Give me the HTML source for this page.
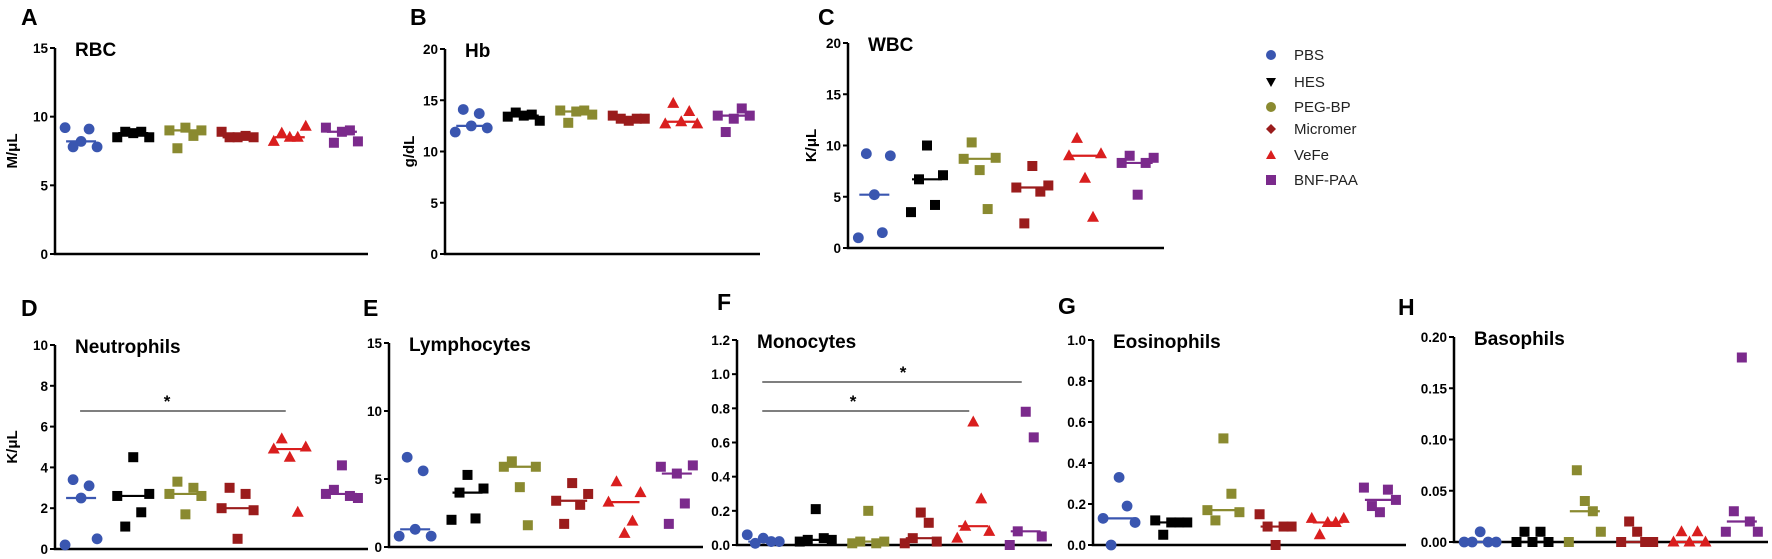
<!DOCTYPE html>
<html><head><meta charset="utf-8">
<style>
html,body{margin:0;padding:0;background:#fff;}
svg{display:block;font-family:"Liberation Sans",Arial,sans-serif;}
</style></head>
<body>
<svg id="fig" width="1772" height="559" viewBox="0 0 1772 559"></svg>
<script>
const groups = ["PBS","HES","PEG-BP","Micromer","VeFe","BNF-PAA"];
const colors = ["#3a56b0","#000000","#8a8a30","#9a1c1c","#d91e1e","#7b2a8c"];
const shapes = ["circle","square","square","square","triangle","square"];

const rbcValues = [[9.2,7.8,8.2,9.1,7.8],[8.5,8.9,8.8,8.9,8.5],[9.0,7.7,9.2,8.6,9.0],[8.9,8.5,8.5,8.6,8.5],[8.2,8.8,8.5,8.5,9.3],[9.2,8.1,8.9,9.0,8.2]];
const hbValues = [[11.9,14.1,12.5,13.7,12.3],[13.4,13.8,13.5,13.6,13.0],[14.0,12.8,13.9,14.0,13.6],[13.5,13.2,13.0,13.2,13.2],[12.7,14.7,12.9,13.9,12.7],[13.5,11.9,13.2,14.2,13.5]];
const wbcValues = [[1.0,9.2,5.2,1.5,9.0],[3.5,6.7,10.0,4.2,7.1],[8.7,10.3,7.6,3.8,8.8],[5.9,2.4,8.0,5.5,6.1],[9.0,10.7,6.8,3.0,9.2],[8.3,9.0,5.2,8.3,8.8]];
const neuValues = [[0.2,3.4,2.5,3.1,0.5],[2.6,1.1,4.5,1.8,2.7],[2.7,3.3,1.7,3.0,2.6],[2.0,3.0,0.5,2.7,1.9],[4.9,5.4,4.5,1.8,5.0],[2.7,2.9,4.1,2.6,2.5]];
const lymValues = [[0.8,6.6,1.3,5.6,0.8],[2.0,4.0,5.3,2.1,4.3],[5.9,6.3,4.4,1.6,5.9],[3.4,1.7,4.7,3.1,3.9],[3.3,4.8,1.0,1.9,4.0],[5.9,1.7,5.4,3.2,6.0]];
const monValues = [[0.06,0.01,0.04,0.02,0.02],[0.02,0.03,0.21,0.04,0.03],[0.01,0.02,0.20,0.01,0.02],[0.01,0.04,0.19,0.13,0.02],[0.04,0.11,0.72,0.27,0.08],[0.0,0.08,0.78,0.63,0.05]];
const eosValues = [[0.13,0.0,0.33,0.19,0.11],[0.12,0.05,0.11,0.11,0.11],[0.17,0.12,0.52,0.25,0.16],[0.15,0.09,0.0,0.09,0.09],[0.13,0.05,0.11,0.11,0.13],[0.28,0.19,0.16,0.27,0.22]];
const basValues = [[0,0,0.01,0,0],[0,0.01,0,0.01,0],[0,0.07,0.04,0.03,0.01],[0,0.02,0.01,0,0],[0,0.01,0,0.01,0],[0.01,0.03,0.18,0.02,0.01]];

const rbcTicks = [0,5,10,15];
const hbTicks = [0,5,10,15,20];
const wbcTicks = [0,5,10,15,20];
const neuTicks = [0,2,4,6,8,10];
const lymTicks = [0,5,10,15];
const monTicks = [0,0.2,0.4,0.6,0.8,1.0,1.2];
const eosTicks = [0,0.2,0.4,0.6,0.8,1.0];
const basTicks = [0,0.05,0.10,0.15,0.20];

const NS="http://www.w3.org/2000/svg";
const svg=document.getElementById('fig');
function mk(tag,attrs,parent){const e=document.createElementNS(NS,tag);for(const k in attrs)e.setAttribute(k,attrs[k]);(parent||svg).appendChild(e);return e;}
function median(a){const s=[...a].sort((x,y)=>x-y);return s[Math.floor(s.length/2)];}
const jitter=[-16,-8,0,8,16];

function panel(cfg){
  const g=mk('g',{});
  
  
  const ymax=cfg.ticks[cfg.ticks.length-1];
  const Y=v=>cfg.y0-(v/ymax)*(cfg.y0-cfg.y1);
  const band=(cfg.x1-cfg.x0)/groups.length;
  const X=i=>cfg.x0+band*(i+0.5);
  const L=mk('text',{x:cfg.lx,y:cfg.ly,'font-size':23,'font-weight':'bold'},g);L.textContent=cfg.letter;
  
  
  const T=mk('text',{x:cfg.x0+20,y:cfg.y1+8,'font-size':19,'font-weight':'bold'},g);T.textContent=cfg.title;
  
  
  const ax=mk('path',{d:`M${cfg.x0},${cfg.y1}V${cfg.y0}H${cfg.x1}`,stroke:'#000','stroke-width':2.5,fill:'none'},g);
  
  
  cfg.ticks.forEach(t=>{
    mk('line',{x1:cfg.x0-5,x2:cfg.x0,y1:Y(t),y2:Y(t),stroke:'#000','stroke-width':2},g);
    const tl=mk('text',{x:cfg.x0-7,y:Y(t)+5,'font-size':13.5,'font-weight':'bold','text-anchor':'end'},g);
    tl.textContent=cfg.fmt(t);
    
    
  });
  if(cfg.ylabel){
    const yl=mk('text',{x:0,y:0,'font-size':15,'font-weight':'bold','text-anchor':'middle',transform:`translate(${cfg.ylx},${(cfg.y0+cfg.y1)/2}) rotate(-90)`},g);
    yl.textContent=cfg.ylabel;
    
    
  }
  cfg.values.forEach((vals,i)=>{
    const c=colors[i];
    vals.forEach((v,j)=>{
      const cx=X(i)+jitter[j], cy=Y(v);
      let m;
      if(shapes[i]==='circle') m=mk('circle',{cx:cx,cy:cy,r:5.4,fill:c},g);
      else if(shapes[i]==='triangle') m=mk('path',{d:`M${cx},${cy-6.5}L${cx+6},${cy+4.5}L${cx-6},${cy+4.5}Z`,fill:c},g);
      else m=mk('rect',{x:cx-5,y:cy-5,width:10,height:10,fill:c},g);
      
      
    });
    const md=mk('line',{x1:X(i)-15,x2:X(i)+15,y1:Y(median(vals)),y2:Y(median(vals)),stroke:c,'stroke-width':2.2},g);
    
    
  });
  (cfg.sig||[]).forEach(s=>{
    const y=s.y;
    const sl=mk('line',{x1:X(s.a)-1,x2:X(s.b)-4,y1:y,y2:y,stroke:'#333','stroke-width':1.3},g);
    
    
    const st=mk('text',{x:s.sx,y:y-4,'font-size':17,'font-weight':'bold','text-anchor':'middle'},g);st.textContent='*';
    
    
  });
}
const f0=t=>String(t), f1=t=>t.toFixed(1), f2=t=>t.toFixed(2);
panel({key:'rbc',letter:'A',title:'RBC',lx:21,ly:25,x0:55,x1:368,y0:254,y1:48,ticks:rbcTicks,values:rbcValues,fmt:f0,ylabel:'M/μL',ylx:17});
panel({key:'hb',letter:'B',title:'Hb',lx:410,ly:25,x0:445,x1:760,y0:254,y1:49,ticks:hbTicks,values:hbValues,fmt:f0,ylabel:'g/dL',ylx:414});
panel({key:'wbc',letter:'C',title:'WBC',lx:818,ly:25,x0:848,x1:1164,y0:248,y1:43,ticks:wbcTicks,values:wbcValues,fmt:f0,ylabel:'K/μL',ylx:816});
panel({key:'neu',letter:'D',title:'Neutrophils',lx:21,ly:316,x0:55,x1:368,y0:549,y1:345,ticks:neuTicks,values:neuValues,fmt:f0,ylabel:'K/μL',ylx:17,sig:[{a:0,b:4,y:411,sx:167}]});
panel({key:'lym',letter:'E',title:'Lymphocytes',lx:363,ly:316,x0:389,x1:703,y0:547,y1:343,ticks:lymTicks,values:lymValues,fmt:f0});
panel({key:'mon',letter:'F',title:'Monocytes',lx:717,ly:310,x0:737,x1:1052,y0:545,y1:340,ticks:monTicks,values:monValues,fmt:f1,sig:[{a:0,b:5,y:382,sx:903},{a:0,b:4,y:411,sx:853}]});
panel({key:'eos',letter:'G',title:'Eosinophils',lx:1058,ly:314,x0:1093,x1:1406,y0:545,y1:340,ticks:eosTicks,values:eosValues,fmt:f1});
panel({key:'bas',letter:'H',title:'Basophils',lx:1398,ly:315,x0:1454,x1:1768,y0:542,y1:337,ticks:basTicks,values:basValues,fmt:f2});

// legend
const legY=[55,82,107,129,155,180];
const legShapes=["circle","downtri","circle","diamond","triangle","square"];
const lg=mk('g',{});


groups.forEach((name,i)=>{
  const y=legY[i], x=1271, c=colors[i];
  let m;
  const s=legShapes[i];
  if(s==='circle') m=mk('circle',{cx:x,cy:y,r:5,fill:c},lg);
  else if(s==='downtri') m=mk('path',{d:`M${x-5},${y-4}L${x+5},${y-4}L${x},${y+5}Z`,fill:c},lg);
  else if(s==='diamond') m=mk('path',{d:`M${x},${y-5}L${x+5},${y}L${x},${y+5}L${x-5},${y}Z`,fill:c},lg);
  else if(s==='triangle') m=mk('path',{d:`M${x},${y-5}L${x+5},${y+4}L${x-5},${y+4}Z`,fill:c},lg);
  else m=mk('rect',{x:x-5,y:y-5,width:10,height:10,fill:c},lg);
  
  
  const t=mk('text',{x:1294,y:y+5,'font-size':15,fill:'#222'},lg);
  t.textContent=name;
  
  
});
</script>
</body></html>
